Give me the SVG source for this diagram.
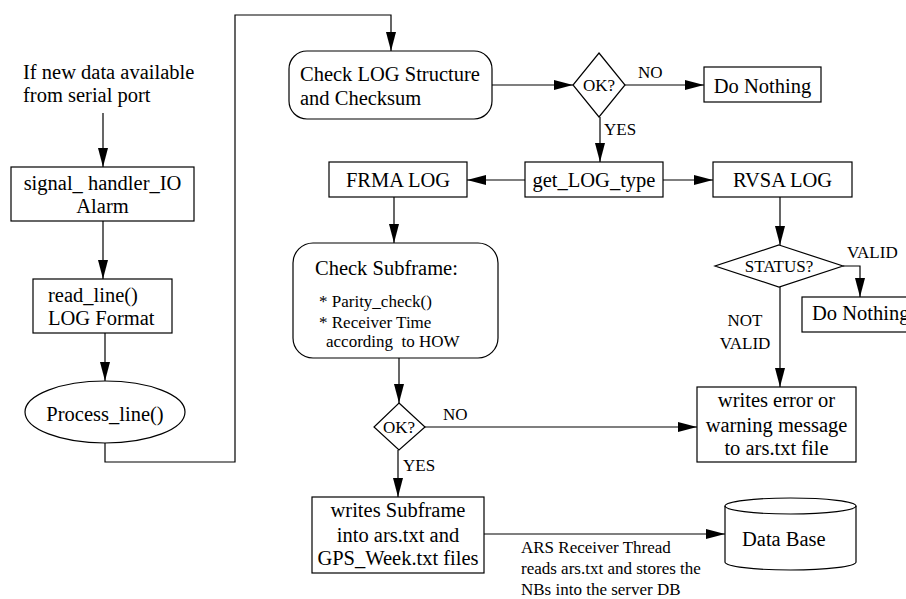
<svg xmlns="http://www.w3.org/2000/svg" width="906" height="599" viewBox="0 0 906 599">
<defs>
<marker id="ah" markerUnits="userSpaceOnUse" markerWidth="19" markerHeight="10" refX="19" refY="5" orient="auto">
<path d="M0,0 L19,5 L0,10 z" fill="#000"/>
</marker>
<style>
.n{fill:#fff;stroke:#000;stroke-width:1.2}
.t{font-family:"Liberation Serif","Times New Roman",serif;font-size:20.5px;fill:#000}
.s{font-family:"Liberation Serif","Times New Roman",serif;font-size:17px;fill:#000}
.c{text-anchor:middle}
.e{fill:none;stroke:#000;stroke-width:1.2}
.a{marker-end:url(#ah)}
</style>
</defs>
<rect width="906" height="599" fill="#fff"/>
<g id="connectors">
<path class="e a" d="M103,113 V167"/>
<path class="e a" d="M103,221 V279"/>
<path class="e a" d="M105,333 V381"/>
<path class="e a" d="M105,443 V462 H235 V15 H391 V51"/>
<path class="e a" d="M492,85 H573"/>
<path class="e a" d="M625,85 H704"/>
<path class="e a" d="M600,117 V162"/>
<path class="e a" d="M525,180 H467"/>
<path class="e a" d="M663,180 H713"/>
<path class="e a" d="M394,196 V243"/>
<path class="e a" d="M399,358 V403"/>
<path class="e a" d="M425,427 H697"/>
<path class="e a" d="M398,450 V497"/>
<path class="e a" d="M780,197 V245"/>
<path class="e a" d="M843,266 H860 V297"/>
<path class="e a" d="M780,287 V387"/>
<path class="e a" d="M484,534 H725"/>
<text class="s" x="638" y="78">NO</text>
<text class="s" x="604" y="135">YES</text>
<text class="s" x="443" y="420">NO</text>
<text class="s" x="403" y="471">YES</text>
<text class="s" x="847" y="258">VALID</text>
<text class="s c" x="745" y="326">NOT</text>
<text class="s c" x="745" y="349">VALID</text>
<text class="s" x="521" y="553">ARS Receiver Thread</text>
<text class="s" x="521" y="574">reads ars.txt and stores the</text>
<text class="s" x="521" y="595">NBs into the server DB</text>
</g>
<g id="start">
<text class="t" x="23" y="79">If new data available</text>
<text class="t" x="23" y="102">from serial port</text>
</g>
<g id="signal_handler">
<rect class="n" x="11" y="167" width="183" height="54"/>
<text class="t c" x="102.5" y="190">signal_ handler_IO</text>
<text class="t c" x="102.5" y="213">Alarm</text>
</g>
<g id="read_line">
<rect class="n" x="33" y="279" width="139" height="54"/>
<text class="t" x="48" y="302">read_line()</text>
<text class="t" x="48" y="325">LOG Format</text>
</g>
<g id="process_line">
<ellipse class="n" cx="105" cy="412" rx="80" ry="31"/>
<text class="t c" x="105" y="421">Process_line()</text>
</g>
<g id="check_log">
<rect class="n" x="289" y="51" width="203" height="68" rx="18"/>
<text class="t" x="300" y="81">Check LOG Structure</text>
<text class="t" x="300" y="105">and Checksum</text>
</g>
<g id="ok1">
<polygon class="n" points="599,53 625,85 599,117 573,85"/>
<text class="s c" x="599" y="91">OK?</text>
</g>
<g id="do_nothing1">
<rect class="n" x="704" y="67" width="117" height="35"/>
<text class="t c" x="762.5" y="93">Do Nothing</text>
</g>
<g id="get_log_type">
<rect class="n" x="525" y="162" width="138" height="35"/>
<text class="t c" x="594" y="187">get_LOG_type</text>
</g>
<g id="frma_log">
<rect class="n" x="329" y="162" width="138" height="35"/>
<text class="t c" x="398" y="187">FRMA LOG</text>
</g>
<g id="rvsa_log">
<rect class="n" x="713" y="162" width="139" height="35"/>
<text class="t c" x="782.5" y="187">RVSA LOG</text>
</g>
<g id="check_subframe">
<rect class="n" x="293" y="243" width="205" height="115" rx="20"/>
<text class="t" x="315" y="275">Check Subframe:</text>
<text class="s" x="319" y="307">* Parity_check()</text>
<text class="s" x="319" y="328">* Receiver Time</text>
<text class="s" x="326" y="347" xml:space="preserve">according  to HOW</text>
</g>
<g id="ok2">
<polygon class="n" points="399,403 425,427 399,450 374,427"/>
<text class="s c" x="399" y="433">OK?</text>
</g>
<g id="status">
<polygon class="n" points="779,245 843,266 779,287 715,266"/>
<text class="s c" x="779" y="272">STATUS?</text>
</g>
<g id="do_nothing2">
<rect class="n" x="802" y="297" width="120" height="35"/>
<text class="t" x="812" y="320">Do Nothing</text>
</g>
<g id="writes_error">
<rect class="n" x="697" y="387" width="159" height="75"/>
<text class="t c" x="776.5" y="407">writes error or</text>
<text class="t c" x="776.5" y="432">warning message</text>
<text class="t c" x="776.5" y="455">to ars.txt file</text>
</g>
<g id="writes_subframe">
<rect class="n" x="312" y="497" width="172" height="76"/>
<text class="t c" x="398" y="517">writes Subframe</text>
<text class="t c" x="398" y="542">into ars.txt and</text>
<text class="t c" x="398" y="565">GPS_Week.txt files</text>
</g>
<g id="database">
<path class="n" d="M725,506 V562 A65.5,8 0 0 0 856,562 V506 A65.5,8 0 0 0 725,506 Z"/>
<path class="e" d="M725,506 A65.5,8 0 0 0 856,506"/>
<text class="t" x="742" y="546">Data Base</text>
</g>
</svg>
